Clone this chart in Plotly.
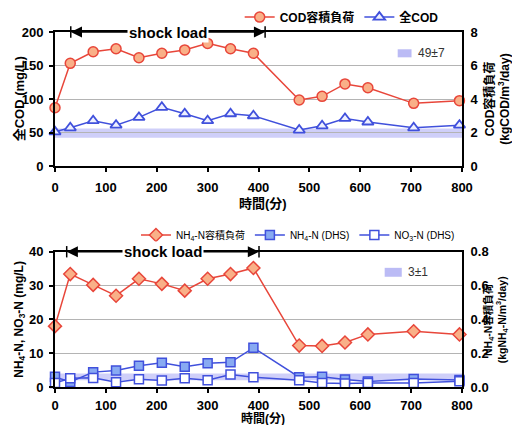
import plotly.graph_objects as go
from plotly.subplots import make_subplots

# ---------------- data ----------------
time_min = [0, 30, 75, 120, 165, 210, 255, 300, 345, 390, 480, 525, 570, 615, 705, 795]

# top chart
cod_load = [3.48, 6.13, 6.82, 7.0, 6.46, 6.73, 6.93, 7.32, 7.0, 6.73, 3.94, 4.16, 4.9, 4.67, 3.74, 3.9]   # kgCOD/m3/day
total_cod = [51, 57, 67.6, 61, 72.6, 87.6, 78, 67.6, 78, 75, 53.7, 60, 71, 65.7, 57, 61]                # mg/L
cod_band_mean, cod_band_sd = 49, 7

# bottom chart
nh4_load = [0.36, 0.668, 0.604, 0.54, 0.64, 0.61, 0.57, 0.64, 0.668, 0.704,
            0.245, 0.243, 0.263, 0.311, 0.33, 0.311]                                                    # kgNH4-N/m3/day
nh4_dhs = [3.0, 1.5, 4.4, 4.9, 6.3, 7.2, 6.0, 7.0, 7.3, 11.6, 2.9, 3.0, 2.2, 1.6, 2.4, 2.1]             # mg/L
no3_dhs = [1.2, 2.6, 2.7, 1.4, 2.3, 1.9, 2.6, 2.0, 3.7, 2.9, 2.0, 1.2, 1.0, 1.2, 1.2, 1.7]              # mg/L
n_band_mean, n_band_sd = 3, 1

shock_top = (31, 413)
shock_bot = (23, 401)

x_ticks = [0, 100, 200, 300, 400, 500, 600, 700, 800]

# ---------------- style ----------------
FONT = "Liberation Sans, Arial, Noto Sans CJK JP, sans-serif"
RED = "#e8463a"
RED_FILL = "#f9b088"
BLUE = "#4050dc"
BLUE_FILL = "#88aaf2"
BAND = "rgba(140,140,240,0.42)"
GRID = "#b4b4b4"

fig = make_subplots(rows=2, cols=1, specs=[[{"secondary_y": True}], [{"secondary_y": True}]])

fig.add_trace(go.Scatter(x=time_min, y=cod_load, name="COD容積負荷", mode="lines+markers",
                         line=dict(color=RED, width=1.5),
                         marker=dict(symbol="circle", size=10, color=RED_FILL, line=dict(color=RED, width=1.5)),
                         cliponaxis=False, legend="legend"),
              row=1, col=1, secondary_y=True)
fig.add_trace(go.Scatter(x=time_min, y=total_cod, name="全COD", mode="lines+markers",
                         line=dict(color=BLUE, width=1.5),
                         marker=dict(symbol="triangle-up", size=10, color="#eef0ff", line=dict(color=BLUE, width=1.8)),
                         cliponaxis=False, legend="legend"),
              row=1, col=1, secondary_y=False)

fig.add_trace(go.Scatter(x=time_min, y=nh4_load, name="NH<sub>4</sub>-N容積負荷", mode="lines+markers",
                         line=dict(color=RED, width=1.5),
                         marker=dict(symbol="diamond", size=10, color=RED_FILL, line=dict(color=RED, width=1.5)),
                         cliponaxis=False, legend="legend2"),
              row=2, col=1, secondary_y=True)
fig.add_trace(go.Scatter(x=time_min, y=nh4_dhs, name="NH<sub>4</sub>-N (DHS)", mode="lines+markers",
                         line=dict(color=BLUE, width=1.5),
                         marker=dict(symbol="square", size=9, color=BLUE_FILL, line=dict(color=BLUE, width=1.5)),
                         cliponaxis=False, legend="legend2"),
              row=2, col=1, secondary_y=False)
fig.add_trace(go.Scatter(x=time_min, y=no3_dhs, name="NO<sub>3</sub>-N (DHS)", mode="lines+markers",
                         line=dict(color=BLUE, width=1.5),
                         marker=dict(symbol="square", size=9, color="white", line=dict(color=BLUE, width=1.5)),
                         cliponaxis=False, legend="legend2"),
              row=2, col=1, secondary_y=False)

TOP_DOM = [0.6225, 1.0]
BOT_DOM = [0.0, 0.381]

base = dict(showline=True, linecolor="black", linewidth=2, tickcolor="black", tickwidth=1.5,
            automargin=False, zeroline=False,
            tickfont=dict(family=FONT, size=13, color="black", weight="bold"))
left_ax = dict(ticks="outside", ticklen=4, ticklabelstandoff=3, **base)
right_ax = dict(ticks="", ticklabelstandoff=4, showgrid=False, **base)
x_common = dict(ticks="outside", ticklen=4, range=[0, 800], tickvals=x_ticks,
                showgrid=False, mirror=True, domain=[0, 1], **base)

fig.update_layout(
    width=512, height=425,
    margin=dict(l=55, r=50, t=32, b=38, autoexpand=False),
    paper_bgcolor="white", plot_bgcolor="white",
    font=dict(family=FONT, color="black"),
    xaxis=dict(ticklabelstandoff=4, **x_common),
    yaxis=dict(domain=TOP_DOM, range=[0, 200], dtick=50, tickformat="d", showgrid=True, gridcolor=GRID,
               gridwidth=1, **left_ax),
    yaxis2=dict(range=[0, 8], dtick=2, **right_ax),
    xaxis2=dict(ticklabelstandoff=1, **x_common),
    yaxis3=dict(domain=BOT_DOM, range=[0, 40], dtick=10, tickformat="d", showgrid=True, gridcolor=GRID,
                gridwidth=1, **left_ax),
    yaxis4=dict(range=[0, 0.8], dtick=0.2, tickformat=".1f", **right_ax),
    legend=dict(orientation="h", x=0.955, xanchor="right", y=1.042, yanchor="middle",
                font=dict(size=12, weight="bold"), bgcolor="rgba(0,0,0,0)", itemwidth=30),
    legend2=dict(orientation="h", x=0.995, xanchor="right", y=0.428, yanchor="middle",
                 font=dict(size=10), bgcolor="rgba(0,0,0,0)", itemwidth=30),
)

# ---- axis titles as rotated text ----
def title(text, x, y, size, angle=-90):
    fig.add_annotation(xref="paper", yref="paper", x=x, y=y, text=text, showarrow=False,
                       textangle=angle, xanchor="center", yanchor="middle",
                       font=dict(size=size, weight="bold", family=FONT, color="black"))

title("全COD (mg/L)", -0.088, 0.811, 13)
title("COD容積負荷<br>(kgCOD/m<sup>3</sup>/day)", 1.085, 0.811, 12)
title("時間(分)", 0.51, 0.518, 13, angle=0)
title("NH<sub>4</sub>-N, NO<sub>3</sub>-N (mg/L)", -0.088, 0.19, 12)
title("NH<sub>4</sub>-N容積負荷<br>(kgNH<sub>4</sub>-N/m<sup>3</sup>/day)", 1.083, 0.19, 10.5)
title("時間(分)", 0.51, -0.088, 12, angle=0)

# ---- bands (mean ± sd) ----
fig.add_shape(type="rect", xref="x", yref="y", x0=0, x1=800,
              y0=cod_band_mean - cod_band_sd, y1=cod_band_mean + cod_band_sd,
              fillcolor=BAND, line=dict(width=0), layer="below")
fig.add_shape(type="rect", xref="x2", yref="y3", x0=0, x1=800,
              y0=n_band_mean - n_band_sd, y1=n_band_mean + n_band_sd,
              fillcolor=BAND, line=dict(width=0), layer="below")

# inset keys for bands
fig.add_shape(type="rect", xref="x domain", yref="y domain", x0=0.842, x1=0.876, y0=0.811, y1=0.871,
              fillcolor="rgba(170,170,242,0.8)", line=dict(width=0))
fig.add_annotation(xref="x domain", yref="y domain", x=0.886, y=0.841, xanchor="left", yanchor="middle",
                   text=f"{cod_band_mean}±{cod_band_sd}", showarrow=False,
                   font=dict(size=12, color="#333333", family=FONT))
fig.add_shape(type="rect", xref="x2 domain", yref="y3 domain", x0=0.81, x1=0.852, y0=0.815, y1=0.881,
              fillcolor="rgba(170,170,242,0.8)", line=dict(width=0))
fig.add_annotation(xref="x2 domain", yref="y3 domain", x=0.862, y=0.848, xanchor="left", yanchor="middle",
                   text=f"{n_band_mean}±{n_band_sd}", showarrow=False,
                   font=dict(size=12, color="#333333", family=FONT))


def shock(xref, yref, ytop, paper_top, start, end):
    mid = (start + end) / 2
    for head in (start, end):
        fig.add_annotation(xref=xref, yref=yref, x=head, y=ytop, ax=mid, ay=ytop,
                           axref=xref, ayref=yref, text="", showarrow=True,
                           arrowhead=2, arrowsize=1.4, arrowwidth=1.6, arrowcolor="black")
        fig.add_shape(type="line", xref=xref, yref="paper", x0=head, x1=head,
                      y0=paper_top - 0.016, y1=paper_top + 0.016, line=dict(color="black", width=1.5))
    fig.add_annotation(xref=xref, yref=yref, x=mid, y=ytop, text="shock load", showarrow=False,
                       bgcolor="white", borderpad=1,
                       font=dict(size=15, color="black", weight="bold", family=FONT))


shock("x", "y", 200, TOP_DOM[1], *shock_top)
shock("x2", "y3", 40, BOT_DOM[1], *shock_bot)

fig.write_html("out.html", config={"displayModeBar": False},
               post_script="document.body.style.margin='0';")
